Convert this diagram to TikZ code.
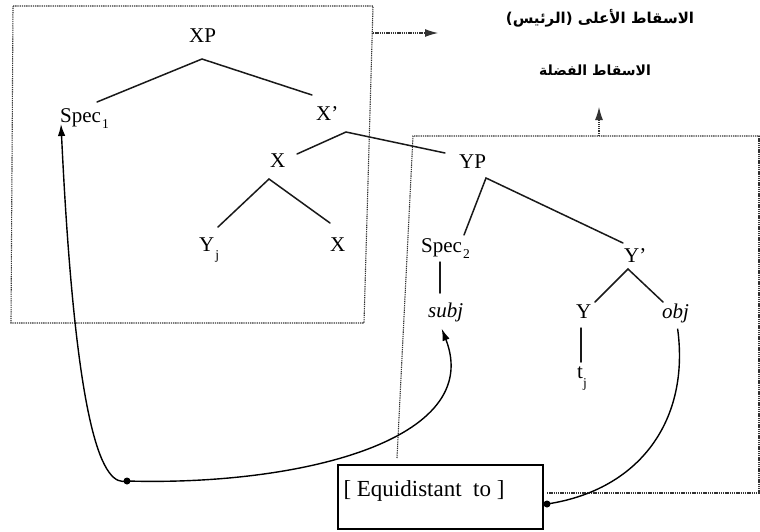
\documentclass[tikz,border=0pt]{standalone}
\usepackage{fontspec}
\setmainfont{Liberation Serif}
\newfontfamily\arabicfont[Script=Arabic]{DejaVu Sans}
\TeXXeTstate=1
\usetikzlibrary{arrows.meta}
\newcommand{\lowsub}[2]{\raisebox{-#1}{\fontsize{13.5}{14}\selectfont #2}}
\begin{document}
\begin{tikzpicture}[x=1pt,y=-1pt,
  lbl/.style={inner sep=0pt, anchor=base west, font=\fontsize{21}{25}\selectfont},
  branch/.style={line width=1.5pt, draw=black!90, line cap=round},
  dotline/.style={line width=1.1pt, draw=black!80, dash pattern=on 1.3pt off 0.9pt},
  link/.style={line width=1.4pt, draw=black},
  soltip/.style={-{Latex[length=12pt,width=7.5pt]}},
  dottip/.style={-{Latex[length=13pt,width=8pt]}},
  arlbl/.style={inner sep=0pt, anchor=base, font=\arabicfont\bfseries\fontsize{15}{18}\selectfont},
  blob/.style={circle, fill=black, inner sep=0pt, minimum size=7pt}]
\useasboundingbox (0,0) rectangle (760,531);

% tree labels
\node[lbl] (XP) at (189,42) {XP};
\node[lbl] (Spec1) at (60,122) {Spec\kern1pt\lowsub{6pt}{1}};
\node[lbl] (Xbar) at (316,120) {X’};
\node[lbl] (Xhead) at (270,167) {X};
\node[lbl] (Yj) at (199,251) {Y\kern1pt\lowsub{8pt}{j}};
\node[lbl] (Xlow) at (330,251) {X};
\node[lbl] (YP) at (459,168) {YP};
\node[lbl] (Spec2) at (421,252) {Spec\kern1pt\lowsub{6pt}{2}};
\node[lbl] (subj) at (428,317) {\itshape subj};
\node[lbl] (Ybar) at (624,262) {Y’};
\node[lbl] (Yhead) at (576,318) {Y};
\node[lbl] (obj) at (662,318) {\itshape obj};
\node[lbl] (tj) at (577,378) {t\lowsub{9pt}{j}};

% branch points
\coordinate (XP-b) at (202,59);
\coordinate (Spec1-t) at (97,102);
\coordinate (Xbar-t) at (312,95);
\coordinate (Xbar-b) at (346,132);
\coordinate (Xhead-t) at (297,154);
\coordinate (YP-t) at (445,153);
\coordinate (Xhead-b) at (269,179);
\coordinate (Yj-t) at (218,227);
\coordinate (Xlow-t) at (330,223);
\coordinate (YP-b) at (486,178);
\coordinate (Spec2-t) at (464,235);
\coordinate (Ybar-t) at (623,243);
\coordinate (Spec2-b) at (440,262);
\coordinate (subj-t) at (440,293);
\coordinate (Ybar-b) at (628,269);
\coordinate (Yhead-t) at (595,302);
\coordinate (obj-t) at (663,302);
\coordinate (Yhead-b) at (581,328);
\coordinate (tj-t) at (581,362);

\draw[branch] (Spec1-t) -- (XP-b) -- (Xbar-t);
\draw[branch] (Xhead-t) -- (Xbar-b) -- (YP-t);
\draw[branch] (Yj-t) -- (Xhead-b) -- (Xlow-t);
\draw[branch] (Spec2-t) -- (YP-b) -- (Ybar-t);
\draw[branch] (Spec2-b) -- (subj-t);
\draw[branch] (Yhead-t) -- (Ybar-b) -- (obj-t);
\draw[branch] (Yhead-b) -- (tj-t);

% dotted boxes
\draw[dotline] (13,6) -- (373,6) -- (364,323) -- (11,323) -- cycle;
\draw[dotline] (397,458) -- (413,136) -- (760,136);
\draw[dotline] (759,136) -- (759,493);
\draw[dotline] (547,493) -- (760,493);

% Arabic labels
\node[arlbl] (ar1) at (600,23) {\beginR الاسقاط الأعلى (الرئيس)\endR};
\node[arlbl, font=\arabicfont\bfseries\fontsize{14}{18}\selectfont] (ar2) at (595,75) {\beginR الاسقاط الفضلة\endR};

% dotted arrows
\coordinate (Lout) at (373,33);
\coordinate (Lto) at (438,33);
\coordinate (Rout) at (599,136);
\coordinate (Rto) at (599,107);
\draw[dotline, dottip] (Lout) -- (Lto);
\draw[dotline, dottip] (Rout) -- (Rto);

% box
\node[draw, line width=2pt, inner sep=0pt, minimum width=205pt, minimum height=64pt, anchor=north west] (eqbox) at (337,464) {};
\node[inner sep=0pt, anchor=base, font=\fontsize{23}{27}\selectfont] (eqtext) at (424,496) {[ Equidistant\ \ to ]};

% dots
\node[blob] (dA) at (127,481) {};
\node[blob] (dB) at (547,504) {};

% curves
\draw[link, soltip] (dA.center) .. controls (104,487) and (76,440) .. ([xshift=1pt,yshift=-2pt]Spec1.base west);
\draw[link, soltip] (dA.center) .. controls (300,486) and (485,440) .. ([xshift=-4pt,yshift=-7pt]subj.south);
\draw[link] (dB.center) .. controls (640,490) and (690,420) .. ([xshift=2pt,yshift=-6pt]obj.south);
\end{tikzpicture}
\end{document}
